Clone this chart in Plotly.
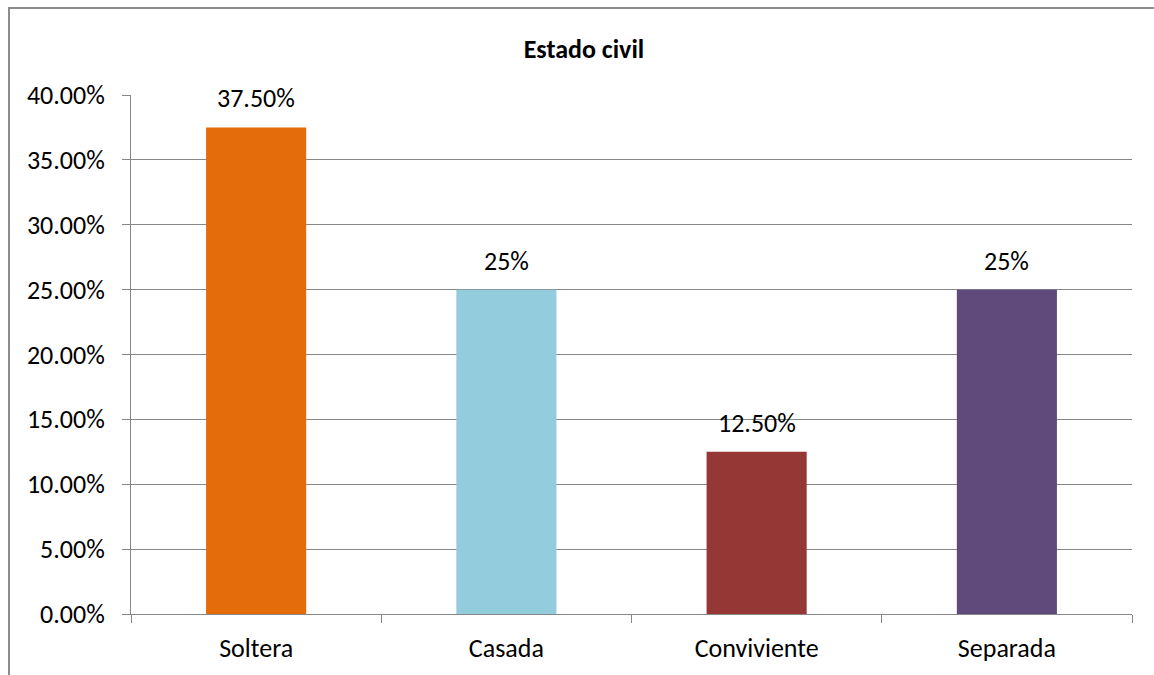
import plotly.graph_objects as go

categories = ["Soltera", "Casada", "Conviviente", "Separada"]
values = [0.375, 0.25, 0.125, 0.25]
value_labels = ["37.50%", "25%", "12.50%", "25%"]
bar_colors = ["#E46C0A", "#93CDDD", "#953735", "#604A7B"]

font_family = "Carlito, Calibri, 'Open Sans', 'Noto Sans', sans-serif"
grid_color = "#878787"
text_size = 26

fig = go.Figure(
    go.Bar(
        x=categories,
        y=values,
        marker=dict(color=bar_colors, line=dict(width=0)),
        cliponaxis=False,
    )
)

# value labels sitting above each bar
for cat, val, lab in zip(categories, values, value_labels):
    fig.add_annotation(
        x=cat,
        y=val,
        text=lab,
        showarrow=False,
        yanchor="bottom",
        yshift=11,
        font=dict(size=text_size, family=font_family, color="#000000"),
    )

fig.update_layout(
    width=1154,
    height=675,
    margin=dict(l=131, r=22, t=95, b=61),
    paper_bgcolor="white",
    plot_bgcolor="white",
    bargap=0.6,
    showlegend=False,
    font=dict(family=font_family, size=text_size, color="#000000"),
    title=dict(
        text="<b>Estado civil</b>",
        x=0.506,
        xanchor="center",
        y=0.927,
        yanchor="middle",
        font=dict(size=text_size, family=font_family, color="#000000"),
    ),
)

fig.update_yaxes(
    range=[0, 0.4],
    dtick=0.05,
    tickformat=".2%",
    showgrid=True,
    gridcolor=grid_color,
    gridwidth=1,
    zeroline=False,
    showline=True,
    linecolor=grid_color,
    linewidth=1,
    ticks="outside",
    ticklen=8,
    tickcolor=grid_color,
    ticklabelstandoff=12,
    tickfont=dict(size=text_size),
)

fig.update_xaxes(
    tickson="boundaries",
    ticks="outside",
    ticklen=8,
    tickcolor=grid_color,
    showline=True,
    linecolor=grid_color,
    linewidth=1,
    showgrid=False,
    ticklabelstandoff=11,
    tickfont=dict(size=text_size),
)

# chart frame: left and top edges, running off the right and bottom of the page
x_left = (9 - 131) / 1001
y_top = (614 - 8) / 519
fig.add_shape(
    type="path",
    xref="paper",
    yref="paper",
    path=f"M {x_left} -0.2 L {x_left} {y_top} L 1.05 {y_top}",
    line=dict(color="#8C8C8C", width=2),
)

fig.write_html("out.html")
